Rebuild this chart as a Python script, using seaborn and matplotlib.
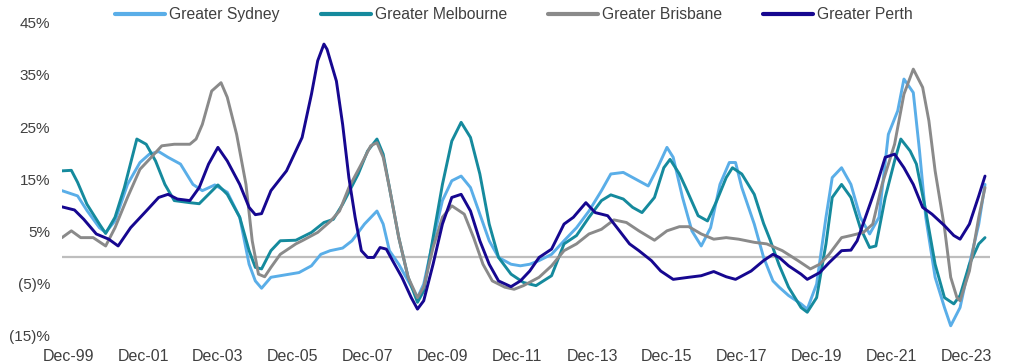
import matplotlib
matplotlib.use("Agg")
import matplotlib.pyplot as plt
from matplotlib.lines import Line2D
import pandas as pd
import seaborn as sns

# Annual dwelling price growth by capital city (months counted from Dec-99)
regions = ["Greater Sydney", "Greater Melbourne", "Greater Brisbane", "Greater Perth"]
colors = ["#5AAEE8", "#158A9D", "#8A8A8A", "#160790"]

sydney_month = [-2, 3, 6, 10, 12, 15, 19, 23, 26, 29,
                32, 36, 40, 43, 47, 51, 55, 58, 60, 62,
                65, 71, 74, 78, 81, 84, 88, 91, 95, 99,
                101, 103, 106, 109, 112, 114, 117, 120, 123, 126,
                129, 132, 135, 138, 142, 145, 148, 151, 155, 159,
                163, 167, 171, 174, 178, 182, 186, 189, 192, 194,
                197, 200, 203, 206, 209, 212, 214, 216, 220, 223,
                226, 228, 231, 235, 237, 240, 243, 245, 248, 251,
                254, 257, 260, 263, 266, 268, 271, 273, 275, 278,
                281, 283, 286, 289, 292, 294]
sydney_growth = [12.8, 11.8, 9.0, 5.7, 4.8, 7.0, 14.0, 18.2, 19.8, 20.3,
                 19.2, 17.9, 14.0, 12.8, 13.9, 12.5, 7.7, -1.3, -4.5, -5.9,
                 -3.8, -3.2, -2.9, -1.6, 0.6, 1.3, 1.8, 3.2, 6.4, 8.9,
                 6.4, 1.3, -1.3, -4.5, -7.7, -5.1, 3.2, 10.9, 14.7, 15.6,
                 13.4, 8.3, 3.2, 0.0, -1.3, -1.6, -1.3, -0.6, 0.6, 3.2,
                 5.7, 8.9, 12.8, 16.0, 16.3, 15.0, 13.7, 17.2, 21.1, 19.2,
                 11.5, 5.1, 2.2, 5.7, 14.0, 18.2, 18.2, 13.4, 6.4, 0.0,
                 -4.5, -5.7, -7.3, -8.9, -9.9, -5.1, 7.7, 15.3, 17.2, 14.0,
                 7.7, 4.5, 7.7, 23.6, 28.1, 34.2, 31.6, 20.4, 7.7, -3.8,
                 -9.6, -13.1, -9.6, -1.3, 6.4, 14.0]

melbourne_month = [-2, 1, 3, 6, 10, 12, 15, 18, 22, 25,
                   28, 31, 34, 39, 42, 45, 48, 51, 55, 58,
                   60, 62, 65, 68, 73, 78, 82, 85, 88, 93,
                   96, 99, 101, 103, 106, 109, 112, 114, 117, 120,
                   123, 126, 129, 132, 135, 138, 142, 146, 150, 155,
                   159, 163, 167, 171, 174, 178, 181, 184, 188, 191,
                   193, 196, 198, 202, 205, 208, 211, 213, 216, 220,
                   223, 225, 228, 231, 235, 237, 240, 243, 245, 248,
                   251, 254, 257, 259, 262, 265, 267, 270, 272, 275,
                   278, 281, 284, 286, 289, 292, 294]
melbourne_growth = [16.6, 16.7, 14.4, 10.2, 6.4, 4.6, 7.7, 13.4, 22.7, 21.7,
                    18.5, 14.0, 10.9, 10.5, 10.3, 12.1, 13.9, 12.1, 7.7, 1.3,
                    -1.9, -2.2, 1.3, 3.2, 3.3, 4.8, 6.7, 7.3, 10.2, 16.0,
                    20.4, 22.7, 19.8, 13.4, 3.8, -3.8, -8.6, -6.4, 3.8, 14.0,
                    22.3, 25.9, 23.0, 16.0, 6.4, 0.0, -3.2, -4.8, -5.4, -3.5,
                    2.6, 4.2, 7.7, 10.9, 12.0, 11.2, 9.6, 8.6, 11.5, 17.2,
                    18.8, 16.0, 13.4, 8.0, 7.0, 10.9, 15.3, 17.2, 16.0, 12.1,
                    6.5, 3.5, -1.5, -5.7, -9.6, -10.5, -7.7, 2.6, 11.5, 14.0,
                    11.5, 5.7, 1.9, 2.2, 11.5, 18.5, 22.7, 20.4, 17.9, 8.9,
                    -1.3, -7.7, -8.9, -7.3, -1.3, 2.6, 3.8]

brisbane_month = [-2, 1, 4, 8, 12, 15, 19, 23, 26, 30,
                  34, 39, 41, 43, 46, 49, 51, 54, 57, 59,
                  61, 63, 65, 68, 73, 75, 80, 84, 87, 90,
                  94, 97, 99, 101, 103, 106, 109, 112, 114, 117,
                  120, 123, 127, 130, 133, 136, 140, 143, 146, 151,
                  155, 159, 163, 167, 171, 175, 179, 183, 188, 192,
                  196, 199, 203, 207, 211, 215, 220, 224, 229, 234,
                  238, 241, 244, 248, 251, 255, 258, 261, 265, 268,
                  271, 274, 276, 278, 281, 283, 285, 286, 289, 292,
                  294]
brisbane_growth = [3.8, 5.1, 3.8, 3.8, 2.2, 5.7, 11.5, 16.9, 18.8, 21.4,
                   21.7, 21.7, 22.7, 25.5, 31.9, 33.5, 30.7, 23.6, 14.0, 3.2,
                   -3.2, -3.7, -1.9, 0.6, 2.6, 3.2, 4.8, 6.9, 8.9, 13.4,
                   17.9, 21.4, 22.0, 19.2, 13.4, 3.8, -3.8, -7.7, -5.7, 1.9,
                   7.7, 9.9, 8.3, 3.8, -1.3, -4.5, -5.7, -6.1, -5.4, -3.8,
                   -1.6, 1.3, 2.6, 4.5, 5.4, 7.2, 6.7, 5.1, 3.3, 5.1,
                   5.9, 5.9, 4.5, 3.5, 3.8, 3.5, 2.9, 2.6, 1.3, -0.6,
                   -2.2, -1.3, 0.6, 3.8, 4.2, 4.8, 6.4, 14.0, 21.7, 31.3,
                   36.1, 32.6, 26.2, 16.6, 5.7, -3.8, -7.7, -8.3, -2.6, 7.7,
                   13.4]

perth_month = [-2, 2, 5, 9, 13, 16, 20, 25, 29, 32,
               35, 39, 42, 45, 48, 51, 55, 58, 60, 62,
               65, 70, 75, 78, 80, 82, 83, 86, 88,
               90, 92, 94, 96, 98, 100, 102, 104, 107, 110,
               112, 114, 117, 120, 123, 126, 129, 132, 135, 138,
               142, 145, 148, 151, 155, 159, 162, 166, 169, 173,
               176, 180, 183, 187, 190, 194, 199, 203, 207, 211,
               214, 219, 223, 226, 228, 231, 235, 237, 241, 244,
               248, 251, 253, 256, 259, 262, 265, 268, 271, 274,
               277, 281, 284, 286, 289, 292, 294]
perth_growth = [9.7, 9.1, 7.3, 4.5, 3.5, 2.2, 5.7, 8.9, 11.5, 12.1,
                11.2, 10.9, 13.4, 17.9, 21.1, 18.5, 14.0, 9.6, 8.2, 8.4,
                12.8, 16.6, 23.0, 31.3, 37.7, 40.9, 39.9, 33.8, 25.5,
                15.3, 7.7, 1.3, 0.0, 0.0, 1.9, 1.6, -0.6, -3.8, -7.7,
                -9.9, -8.3, -1.3, 6.4, 11.5, 12.1, 8.9, 3.2, -1.3, -4.5,
                -5.6, -4.5, -2.6, 0.0, 1.6, 6.4, 7.7, 10.5, 8.6, 8.0,
                5.7, 2.6, 1.3, -0.6, -2.6, -4.2, -3.8, -3.5, -2.7, -3.7,
                -4.2, -2.6, -0.6, 0.6, 0.0, -1.6, -3.2, -4.2, -2.9, -1.0,
                1.3, 1.4, 3.2, 8.3, 13.4, 19.2, 19.8, 17.2, 14.0, 9.6,
                8.3, 6.1, 4.2, 3.5, 6.4, 11.8, 15.6]

y_ticks = [-15, -5, 5, 15, 25, 35, 45]
y_labels = ["(15)%", "(5)%", "5%", "15%", "25%", "35%", "45%"]
x_ticks = [0, 24, 48, 72, 96, 120, 144, 168, 192, 216, 240, 264, 288]
x_labels = ["Dec-99", "Dec-01", "Dec-03", "Dec-05", "Dec-07", "Dec-09", "Dec-11",
            "Dec-13", "Dec-15", "Dec-17", "Dec-19", "Dec-21", "Dec-23"]

series = [
    (regions[0], sydney_month, sydney_growth),
    (regions[1], melbourne_month, melbourne_growth),
    (regions[2], brisbane_month, brisbane_growth),
    (regions[3], perth_month, perth_growth),
]
df = pd.concat(
    [pd.DataFrame({"month": m, "growth": g, "region": name}) for name, m, g in series],
    ignore_index=True,
)

sns.set_theme(style="white")
plt.rcParams["font.family"] = ["Liberation Sans", "DejaVu Sans"]
text_color = "#404040"

W, H = 1014, 363
fig = plt.figure(figsize=(W / 100, H / 100), dpi=100)
ax = fig.add_axes([62 / W, (H - 335.7) / H, (990 - 62) / W, 313 / H])

ax.axhline(0, color="#BEBEBE", linewidth=1.6, zorder=1)
sns.lineplot(
    data=df, x="month", y="growth", hue="region", hue_order=regions,
    palette=colors, linewidth=2.1, estimator=None, legend=False, ax=ax, zorder=2,
)

ax.set_xlim(-2, 295.6)
ax.set_ylim(-15, 45)
ax.set_yticks(y_ticks)
ax.set_yticklabels(y_labels)
ax.set_xticks(x_ticks)
ax.set_xticklabels(x_labels)
ax.set_xlabel("")
ax.set_ylabel("")
ax.tick_params(axis="y", length=0, pad=8.5, labelsize=11, labelcolor=text_color)
ax.tick_params(axis="x", length=0, pad=9.5, labelsize=11.5, labelcolor=text_color)
for s in ax.spines.values():
    s.set_visible(False)

handles = [Line2D([0], [0], color=c, linewidth=3) for c in colors]
fig.legend(
    handles, regions, loc="center", bbox_to_anchor=(514 / W, 1 - 14.7 / H),
    ncol=4, frameon=False, fontsize=11.3, handlelength=3.2, handletextpad=0.25,
    columnspacing=2.6, labelcolor=text_color,
)

fig.savefig("out.png", dpi=100)
